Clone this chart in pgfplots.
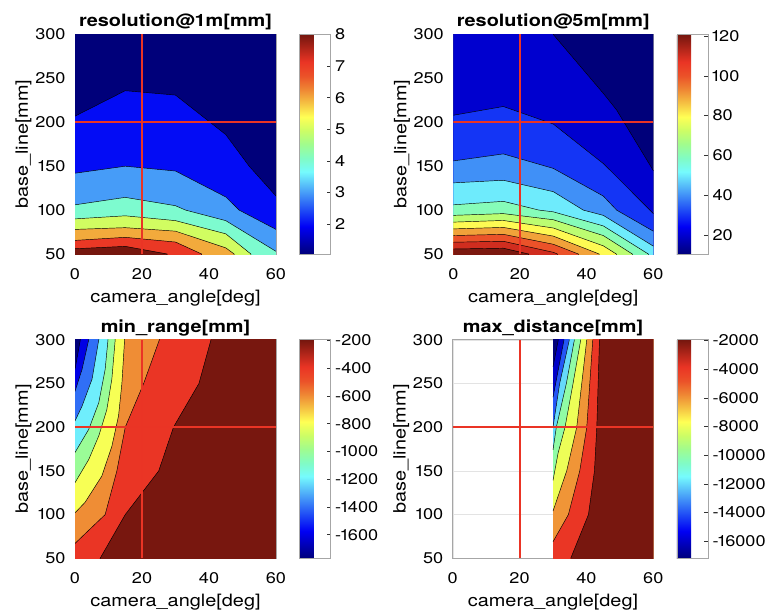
\documentclass[border=0pt]{standalone}
\usepackage{fontspec}
\setmainfont{TeX Gyre Heros}[FakeStretch=1.17]
\usepackage{pgfplots}
\pgfplotsset{compat=1.18}

% a narrower figure one, as in proportional digits
\newcommand\one{\kern-1.7pt 1\kern-1.7pt}

% jet colour at position #2 (0..1), as shown on a wide-gamut screen
\newcommand\jetcolour[2]{%
  \pgfmathsetmacro\jf{#2}%
  \pgfmathsetmacro\jR{max(0,min(1,min(4*\jf-1.5,4.5-4*\jf)))}%
  \pgfmathsetmacro\jG{max(0,min(1,min(4*\jf-0.5,3.5-4*\jf)))}%
  \pgfmathsetmacro\jB{max(0,min(1,min(4*\jf+0.5,2.5-4*\jf)))}%
  \pgfmathsetmacro\lR{((\jR+0.055)/1.055)^2.4}%
  \pgfmathsetmacro\lG{((\jG+0.055)/1.055)^2.4}%
  \pgfmathsetmacro\lB{((\jB+0.055)/1.055)^2.4}%
  \pgfmathsetmacro\pR{0.8225*\lR+0.1774*\lG}%
  \pgfmathsetmacro\pG{0.0332*\lR+0.9669*\lG}%
  \pgfmathsetmacro\pB{0.0171*\lR+0.0724*\lG+0.9108*\lB}%
  \pgfmathsetmacro\eR{max(0,min(1,1.055*\pR^(1/2.4)-0.055))}%
  \pgfmathsetmacro\eG{max(0,min(1,1.055*\pG^(1/2.4)-0.055))}%
  \pgfmathsetmacro\eB{max(0,min(1,1.055*\pB^(1/2.4)-0.055))}%
  \edef\tmpdef{\noexpand\definecolor{#1}{rgb}{\eR,\eG,\eB}}\tmpdef
}

% colormap samples
\jetcolour{jt0}{0/16}\jetcolour{jt1}{1/16}\jetcolour{jt2}{2/16}
\jetcolour{jt3}{3/16}\jetcolour{jt4}{4/16}\jetcolour{jt5}{5/16}
\jetcolour{jt6}{6/16}\jetcolour{jt7}{7/16}\jetcolour{jt8}{8/16}
\jetcolour{jt9}{9/16}\jetcolour{jt10}{10/16}\jetcolour{jt11}{11/16}
\jetcolour{jt12}{12/16}\jetcolour{jt13}{13/16}\jetcolour{jt14}{14/16}
\jetcolour{jt15}{15/16}\jetcolour{jt16}{16/16}
\jetcolour{xred}{0.875}

% band colours: resolution@1m, colour range 1.05 .. 8
\jetcolour{a1}{0}
\jetcolour{a2}{(2-1.05)/6.95}\jetcolour{a3}{(3-1.05)/6.95}
\jetcolour{a4}{(4-1.05)/6.95}\jetcolour{a5}{(5-1.05)/6.95}
\jetcolour{a6}{(6-1.05)/6.95}\jetcolour{a7}{(7-1.05)/6.95}
\jetcolour{a8}{1}
% resolution@5m, colour range 10.4 .. 120.8
\jetcolour{b0}{0}
\jetcolour{b20}{(20-10.4)/110.4}\jetcolour{b30}{(30-10.4)/110.4}
\jetcolour{b40}{(40-10.4)/110.4}\jetcolour{b50}{(50-10.4)/110.4}
\jetcolour{b60}{(60-10.4)/110.4}\jetcolour{b70}{(70-10.4)/110.4}
\jetcolour{b80}{(80-10.4)/110.4}\jetcolour{b90}{(90-10.4)/110.4}
\jetcolour{b100}{(100-10.4)/110.4}\jetcolour{b110}{(110-10.4)/110.4}
\jetcolour{b120}{(120-10.4)/110.4}
% min_range, colour range -1770 .. -195
\jetcolour{c0}{0}
\jetcolour{c16}{(1770-1600)/1575}\jetcolour{c14}{(1770-1400)/1575}
\jetcolour{c12}{(1770-1200)/1575}\jetcolour{c10}{(1770-1000)/1575}
\jetcolour{c8}{(1770-800)/1575}\jetcolour{c6}{(1770-600)/1575}
\jetcolour{c4}{(1770-400)/1575}\jetcolour{c2}{(1770-200)/1575}
% max_distance, colour range -17200 .. -1950 (in thousands)
\jetcolour{d0}{0}
\jetcolour{d16}{(17.2-16)/15.25}\jetcolour{d14}{(17.2-14)/15.25}
\jetcolour{d12}{(17.2-12)/15.25}\jetcolour{d10}{(17.2-10)/15.25}
\jetcolour{d8}{(17.2-8)/15.25}\jetcolour{d6}{(17.2-6)/15.25}
\jetcolour{d4}{(17.2-4)/15.25}\jetcolour{d2}{(17.2-2)/15.25}

\newcommand\tickfont{\fontsize{15.5}{16}\selectfont}
\newcommand\labelfont{\fontsize{17}{18}\selectfont}
\newcommand\titlefont{\fontsize{17}{18}\selectfont\bfseries}

\pgfplotsset{
  colormap={pjet}{color(0pt)=(jt0); color(1pt)=(jt1); color(2pt)=(jt2);
    color(3pt)=(jt3); color(4pt)=(jt4); color(5pt)=(jt5); color(6pt)=(jt6);
    color(7pt)=(jt7); color(8pt)=(jt8); color(9pt)=(jt9); color(10pt)=(jt10);
    color(11pt)=(jt11); color(12pt)=(jt12); color(13pt)=(jt13);
    color(14pt)=(jt14); color(15pt)=(jt15); color(16pt)=(jt16)},
  /pgf/number format/assume math mode=true,
  tick label style={font=\tickfont},
  band/.style={draw=black, line width=0.45pt, line join=round},
  flat/.style={draw=none},
  cline/.style={black, line width=0.45pt, line join=round},
  cross/.style={xred, line width=2pt},
  panel/.style={
    scale only axis, width=201pt,
    xmin=0, xmax=60, ymin=50, ymax=300,
    xtick={0,20,40,60}, ytick={50,100,...,300},
    yticklabels={50,\one00,\one50,200,250,300},
    grid=major, major grid style={gray!22, line width=0.4pt},
    axis line style={gray!70, line width=0.5pt},
    tick style={draw=none},
    xlabel={camera\_angle[deg]}, ylabel={base\_line[mm]},
    every axis x label/.style={at={(axis description cs:0.5,0)}, anchor=base,
      yshift=-48pt, font=\labelfont},
    every axis y label/.style={at={(axis description cs:0,0.5)}, xshift=-47pt,
      rotate=90, anchor=base, font=\labelfont},
    every axis title/.style={at={(axis description cs:0.5,1)}, anchor=base,
      yshift=7.5pt, font=\titlefont},
    xticklabel style={anchor=base, yshift=-25pt, inner sep=0pt},
    yticklabel style={anchor=east, xshift=-9.3pt, inner sep=0pt},
    colorbar, colormap name=pjet,
    colorbar style={
      at={(parent axis.north east)}, anchor=north west, xshift=15pt,
      scale only axis, width=31pt,
      axis line style={gray!70, line width=0.5pt},
      ytick pos=right, yticklabel pos=right,
      tick align=inside, major tick length=3.5pt,
      tick style={black!80, line width=0.5pt},
      scaled y ticks=false,
      yticklabel style={anchor=west, xshift=4.5pt, inner sep=0pt,
        /pgf/number format/1000 sep={}},
    },
  },
}

\begin{document}
\begin{tikzpicture}
\useasboundingbox (0,0) rectangle (767pt,614pt);

% ---------------- resolution at 1 m ----------------
\begin{axis}[panel, at={(75pt,360pt)}, anchor=south west, height=219.5pt,
  title={resolution@1m[mm]},
  point meta min=1.05, point meta max=8,
  colorbar style={height=219.5pt, ytick={2,...,8}}]
\addplot[flat, fill=a1] coordinates {(-10,0) (70,0) (70,310) (-10,310)};
\addplot[band, fill=a2] coordinates {(-10,207) (0,207) (15,236) (30,231) (45,186) (52,150) (60,116) (70,116) (70,0) (-10,0)};
\addplot[band, fill=a3] coordinates {(-10,142) (0,142) (15,150) (30,144.5) (45,115) (49,100) (60,78) (70,78) (70,0) (-10,0)};
\addplot[band, fill=a4] coordinates {(-10,106) (0,106) (15,114.5) (30,105) (33,100) (45,88) (60,53) (70,53) (70,0) (-10,0)};
\addplot[band, fill=a5] coordinates {(-10,90) (0,90) (15,93.5) (30,88) (45,73) (52.5,50) (52.5,0) (-10,0)};
\addplot[band, fill=a6] coordinates {(-10,78) (0,78) (15,80) (30,76) (45,57) (47.5,50) (47.5,0) (-10,0)};
\addplot[band, fill=a7] coordinates {(-10,65.5) (0,65.5) (15,69) (30,63.6) (37.8,50) (37.8,0) (-10,0)};
\addplot[band, fill=a8] coordinates {(-10,56) (0,56) (15,58.7) (27.5,50) (27.5,0) (-10,0)};
\addplot[cross] coordinates {(20,50) (20,300)};
\addplot[cross] coordinates {(0,200) (60,200)};
\end{axis}

% ---------------- resolution at 5 m ----------------
\begin{axis}[panel, at={(453.3pt,360pt)}, anchor=south west, height=219.5pt,
  width=200pt,
  title={resolution@5m[mm]},
  point meta min=10.4, point meta max=120.8,
  colorbar style={height=219.5pt, ytick={20,40,...,120},
    yticklabels={20,40,60,80,\one00,\one20}}]
\addplot[flat, fill=b0] coordinates {(-10,0) (70,0) (70,310) (-10,310)};
\addplot[band, fill=b20] coordinates {(30,310) (30,300) (45,233) (49,214) (60,145) (70,145) (70,0) (-10,0) (-10,310)};
\addplot[band, fill=b30] coordinates {(-10,208) (0,208) (15,218) (30,198) (45,153) (49,138) (60,96) (70,96) (70,0) (-10,0)};
\addplot[band, fill=b40] coordinates {(-10,156) (0,156) (15,164) (30,147.5) (45,116) (49,100) (60,76) (70,76) (70,0) (-10,0)};
\addplot[band, fill=b50] coordinates {(-10,131) (0,131) (15,134) (30,121) (39,100) (45,94) (60,59) (70,59) (70,0) (-10,0)};
\addplot[band, fill=b60] coordinates {(-10,106) (0,106) (15,110) (25.7,100) (30,98) (45,82) (58.5,50) (58.5,0) (-10,0)};
\addplot[band, fill=b70] coordinates {(-10,94) (0,94) (15,96) (30,89) (45,71) (53.7,50) (53.7,0) (-10,0)};
\addplot[band, fill=b80] coordinates {(-10,86.3) (0,86.3) (15,88.2) (30,79.6) (45,59.3) (48.9,50) (48.9,0) (-10,0)};
\addplot[band, fill=b90] coordinates {(-10,78.6) (0,78.6) (15,80.3) (30,70.4) (43.75,50) (43.75,0) (-10,0)};
\addplot[band, fill=b100] coordinates {(-10,71) (0,71) (15,72.4) (30,61.1) (37.5,50) (37.5,0) (-10,0)};
\addplot[band, fill=b110] coordinates {(-10,63.4) (0,63.4) (15,64.5) (30,51.9) (31.25,50) (31.25,0) (-10,0)};
\addplot[band, fill=b120] coordinates {(-10,55.7) (0,55.7) (15,56.6) (22.6,50) (22.6,0) (-10,0)};
\addplot[cross] coordinates {(20,50) (20,300)};
\addplot[cross] coordinates {(0,200) (60,200)};
\end{axis}

% ---------------- min_range ----------------
\begin{axis}[panel, at={(75pt,55.7pt)}, anchor=south west, height=218.6pt,
  title={min\_range[mm]},
  point meta min=-1770, point meta max=-195,
  colorbar style={height=218.6pt, ytick={-1600,-1400,...,-200},
    yticklabels={-\one600,-\one400,-\one200,-\one000,-800,-600,-400,-200}}]
\addplot[flat, fill=c0] coordinates {(-10,0) (70,0) (70,310) (-10,310)};
\addplot[band, fill=c16] coordinates {(1.6,310) (1.6,300) (0,266) (-10,266) (-10,0) (70,0) (70,310)};
\addplot[band, fill=c14] coordinates {(4.1,310) (4.1,300) (2.1,266) (0,241) (-10,241) (-10,0) (70,0) (70,310)};
\addplot[band, fill=c12] coordinates {(7.1,310) (7.1,300) (5.1,255) (2.1,224) (0,207) (-10,207) (-10,0) (70,0) (70,310)};
\addplot[band, fill=c10] coordinates {(9.85,310) (9.85,300) (9,266) (7.1,228) (4.1,197.5) (0,171) (-10,171) (-10,0) (70,0) (70,310)};
\addplot[band, fill=c8] coordinates {(12,310) (12,300) (11,255) (9.5,220) (7.1,190) (4.1,163) (0,136.5) (-10,136.5) (-10,0) (70,0) (70,310)};
\addplot[band, fill=c6] coordinates {(14.8,310) (14.8,300) (14,250) (13,213) (11,178) (8,144) (3,114) (0,102) (-10,102) (-10,0) (70,0) (70,310)};
\addplot[band, fill=c4] coordinates {(25.2,310) (25.2,300) (20.5,250) (15,200) (12.5,150) (9,100) (0,67) (-10,67) (-10,0) (70,0) (70,310)};
\addplot[band, fill=c2] coordinates {(40.6,310) (40.6,300) (37,250) (30,204) (29.4,200) (25,150) (15,100) (7.5,50) (7.5,0) (70,0) (70,310)};
\addplot[cross] coordinates {(20,50) (20,300)};
\addplot[cross] coordinates {(0,200) (60,200)};
\end{axis}

% ---------------- max_distance ----------------
\begin{axis}[panel, at={(452.7pt,55.7pt)}, anchor=south west, height=218.6pt,
  width=200.6pt,
  title={max\_distance[mm]},
  point meta min=-17200, point meta max=-1950,
  colorbar style={height=218.6pt, ytick={-16000,-14000,...,-2000},
    yticklabels={-\one6000,-\one4000,-\one2000,-\one0000,-8000,-6000,-4000,-2000}}]
\addplot[flat, fill=d0] coordinates {(30,0) (70,0) (70,310) (30,310)};
\addplot[flat, fill=d16] coordinates {(31.6,310) (31.6,300) (30,269) (30,0) (70,0) (70,310)};
\addplot[flat, fill=d14] coordinates {(33.3,310) (33.3,300) (30,234) (30,0) (70,0) (70,310)};
\addplot[flat, fill=d12] coordinates {(34.9,310) (34.9,300) (32,250) (30,200) (30,0) (70,0) (70,310)};
\addplot[flat, fill=d10] coordinates {(36.4,310) (36.4,300) (34,250) (31,200) (30,174) (30,0) (70,0) (70,310)};
\addplot[flat, fill=d8] coordinates {(38.3,310) (38.3,300) (36,250) (33.6,200) (31.5,170) (30,139) (30,0) (70,0) (70,310)};
\addplot[flat, fill=d6] coordinates {(40.1,310) (40.1,300) (38.6,250) (37.1,200) (34.1,150) (30,104) (30,0) (70,0) (70,310)};
\addplot[flat, fill=d4] coordinates {(41.9,310) (41.9,300) (41,250) (40.1,200) (38,150) (34.6,100) (30,69) (30,0) (70,0) (70,310)};
\addplot[flat, fill=d2] coordinates {(43.9,310) (43.9,300) (43.5,250) (43.1,200) (42.4,150) (40.6,100) (35.3,50) (35.3,0) (70,0) (70,310)};
\addplot[cline] coordinates {(31.6,300) (30,269)};
\addplot[cline] coordinates {(33.3,300) (30,234)};
\addplot[cline] coordinates {(34.9,300) (32,250) (30,200)};
\addplot[cline] coordinates {(36.4,300) (34,250) (31,200) (30,174)};
\addplot[cline] coordinates {(38.3,300) (36,250) (33.6,200) (31.5,170) (30,139)};
\addplot[cline] coordinates {(40.1,300) (38.6,250) (37.1,200) (34.1,150) (30,104)};
\addplot[cline] coordinates {(41.9,300) (41,250) (40.1,200) (38,150) (34.6,100) (30,69)};
\addplot[cline] coordinates {(43.9,300) (43.5,250) (43.1,200) (42.4,150) (40.6,100) (35.3,50)};
\addplot[cross] coordinates {(20,50) (20,300)};
\addplot[cross] coordinates {(0,200) (60,200)};
\end{axis}
\end{tikzpicture}
\end{document}
